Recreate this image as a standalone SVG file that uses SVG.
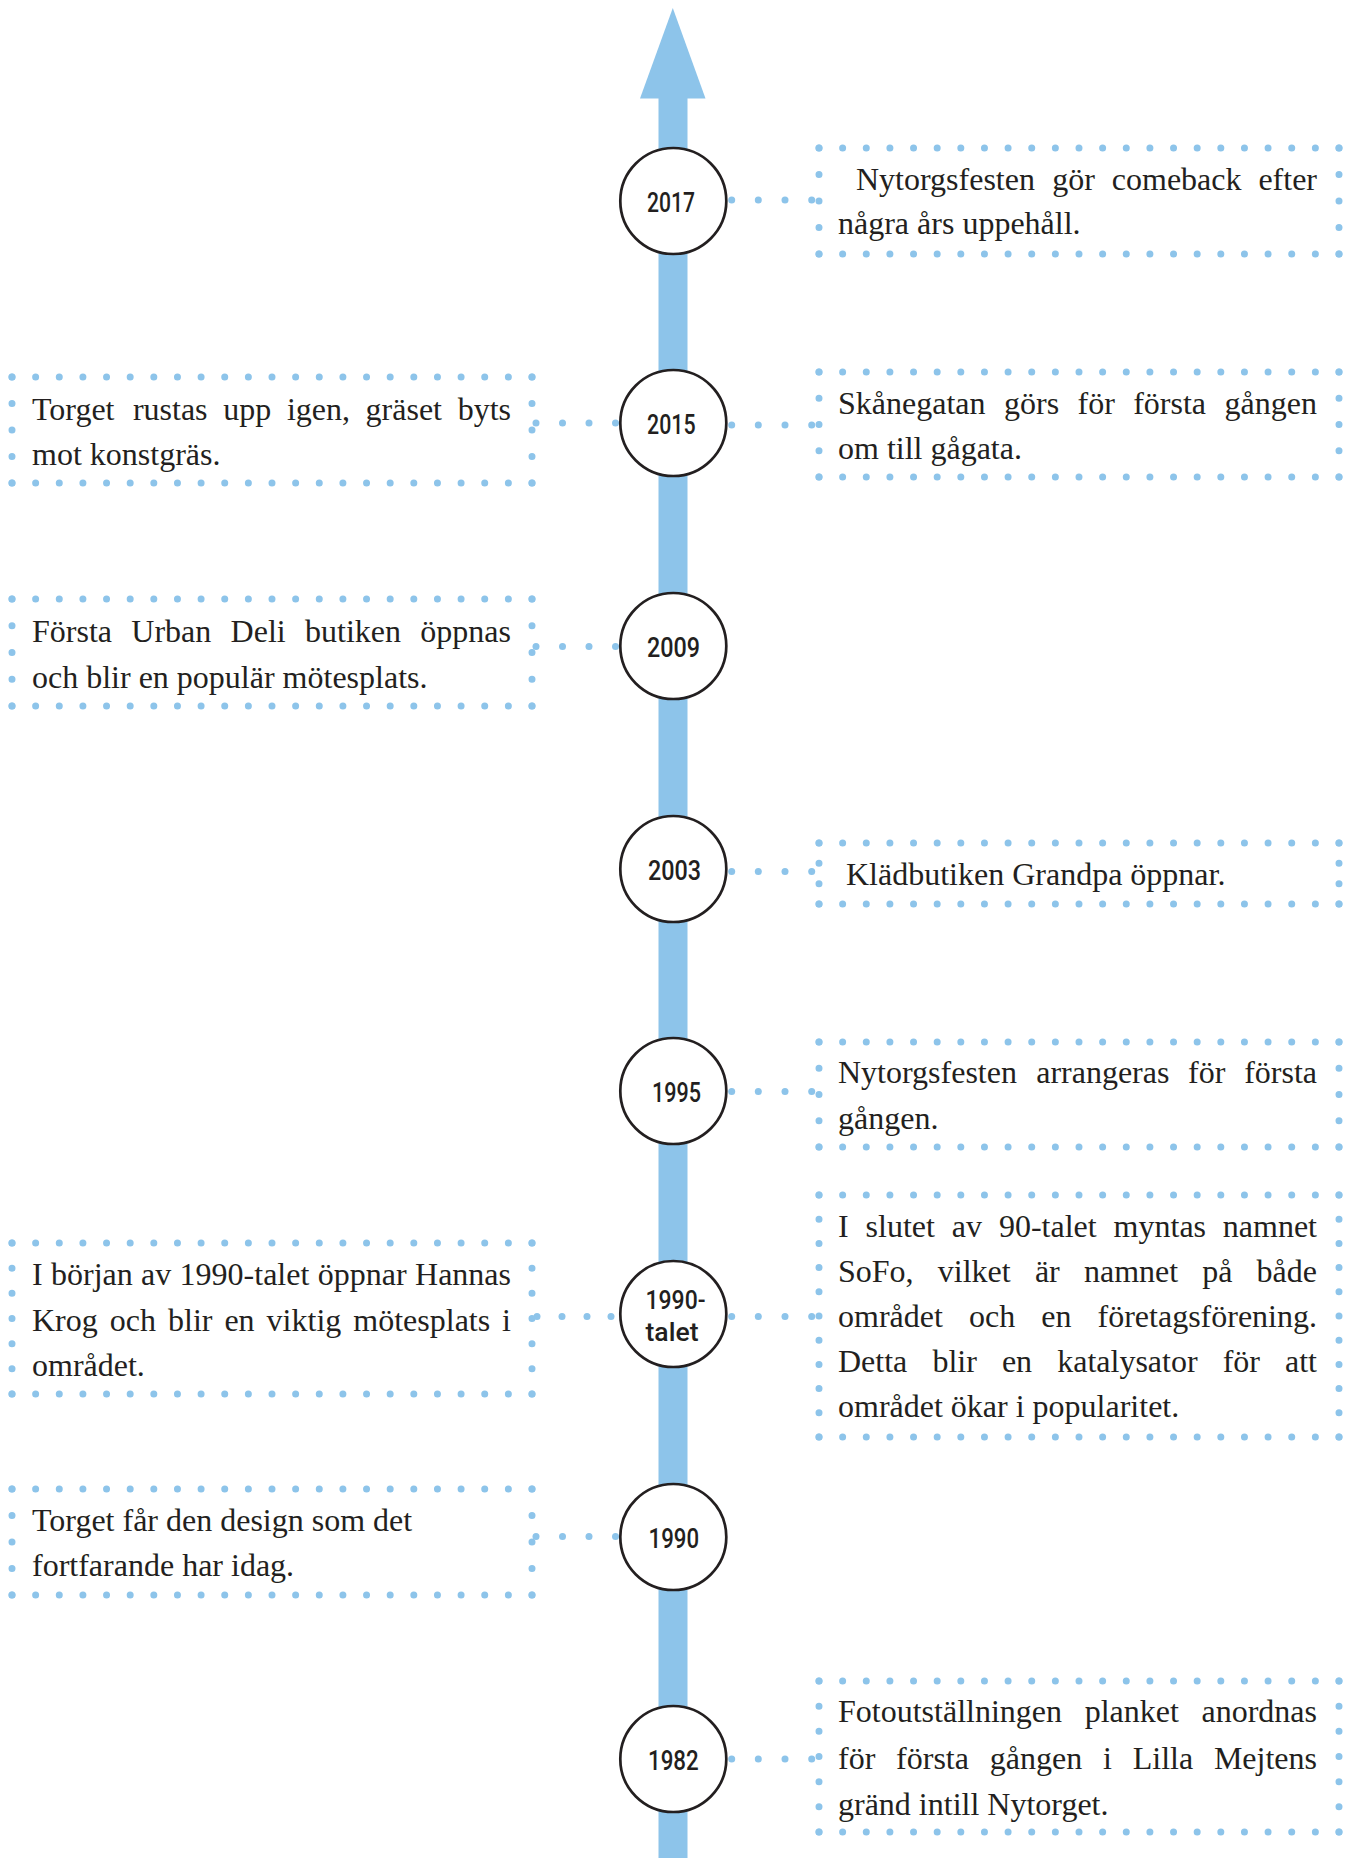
<svg xmlns="http://www.w3.org/2000/svg" width="1355" height="1858" viewBox="0 0 1355 1858">
<defs>
<style>
.spine{fill:#8dc4ea}
.dl{stroke:#8dc4ea;stroke-width:7;stroke-linecap:round;fill:none}
.h{stroke-dasharray:0 23.636}
.cd{fill:#8dc4ea}
.yc{fill:#ffffff;stroke:#231f20;stroke-width:2.7}
.yr{font-family:Roboto,"DejaVu Sans",sans-serif;font-weight:500;font-size:28px;fill:#231f20}
.yr2{font-family:Roboto,"DejaVu Sans",sans-serif;font-weight:500;font-size:26px;fill:#231f20}
.t{font-family:"Liberation Serif","Times New Roman",serif;font-size:32px;fill:#231f20}
.e{text-anchor:end}
</style>
</defs>
<rect width="1355" height="1858" fill="#ffffff"/>
<g id="timeline">
<rect class="spine" x="658.5" y="97" width="29" height="1761"/>
<polygon class="spine" points="640,98.5 705.5,98.5 672.8,8"/>
</g>
<g id="connectors">
<g id="c2017"><circle class="cd" cx="731.7" cy="200" r="3.5"/><circle class="cd" cx="758.3" cy="200" r="3.5"/><circle class="cd" cx="785" cy="200" r="3.5"/><circle class="cd" cx="811.7" cy="200" r="3.5"/></g>
<g id="c2015r"><circle class="cd" cx="731.7" cy="425" r="3.5"/><circle class="cd" cx="758.3" cy="425" r="3.5"/><circle class="cd" cx="785" cy="425" r="3.5"/><circle class="cd" cx="811.7" cy="425" r="3.5"/></g>
<g id="c2015l"><circle class="cd" cx="536" cy="423" r="3.5"/><circle class="cd" cx="562.5" cy="423" r="3.5"/><circle class="cd" cx="589" cy="423" r="3.5"/><circle class="cd" cx="615.5" cy="423" r="3.5"/></g>
<g id="c2009"><circle class="cd" cx="536" cy="646.5" r="3.5"/><circle class="cd" cx="562.5" cy="646.5" r="3.5"/><circle class="cd" cx="589" cy="646.5" r="3.5"/><circle class="cd" cx="615.5" cy="646.5" r="3.5"/></g>
<g id="c2003"><circle class="cd" cx="731.7" cy="871.5" r="3.5"/><circle class="cd" cx="758.3" cy="871.5" r="3.5"/><circle class="cd" cx="785" cy="871.5" r="3.5"/><circle class="cd" cx="811.7" cy="871.5" r="3.5"/></g>
<g id="c1995"><circle class="cd" cx="731.7" cy="1091.5" r="3.5"/><circle class="cd" cx="758.3" cy="1091.5" r="3.5"/><circle class="cd" cx="785" cy="1091.5" r="3.5"/><circle class="cd" cx="811.7" cy="1091.5" r="3.5"/></g>
<g id="c1990tr"><circle class="cd" cx="731.7" cy="1316.5" r="3.5"/><circle class="cd" cx="758.3" cy="1316.5" r="3.5"/><circle class="cd" cx="785" cy="1316.5" r="3.5"/><circle class="cd" cx="811.7" cy="1316.5" r="3.5"/></g>
<g id="c1990tl"><circle class="cd" cx="537" cy="1316.5" r="3.5"/><circle class="cd" cx="562" cy="1316.5" r="3.5"/><circle class="cd" cx="587" cy="1316.5" r="3.5"/><circle class="cd" cx="611" cy="1316.5" r="3.5"/></g>
<g id="c1990"><circle class="cd" cx="536" cy="1536.5" r="3.5"/><circle class="cd" cx="562.5" cy="1536.5" r="3.5"/><circle class="cd" cx="589" cy="1536.5" r="3.5"/><circle class="cd" cx="615.5" cy="1536.5" r="3.5"/></g>
<g id="c1982"><circle class="cd" cx="731.7" cy="1759" r="3.5"/><circle class="cd" cx="758.3" cy="1759" r="3.5"/><circle class="cd" cx="785" cy="1759" r="3.5"/><circle class="cd" cx="811.7" cy="1759" r="3.5"/></g>
</g>
<g id="y2017"><circle class="yc" cx="673.3" cy="201" r="53"/><text class="yr" x="647" y="211.5" textLength="48" lengthAdjust="spacingAndGlyphs">2017</text></g>
<g id="y2015"><circle class="yc" cx="673.3" cy="423" r="53"/><text class="yr" x="647" y="433.5" textLength="48.5" lengthAdjust="spacingAndGlyphs">2015</text></g>
<g id="y2009"><circle class="yc" cx="673.3" cy="646" r="53"/><text class="yr" x="647" y="656.5" textLength="53" lengthAdjust="spacingAndGlyphs">2009</text></g>
<g id="y2003"><circle class="yc" cx="673.3" cy="869" r="53"/><text class="yr" x="648" y="879.5" textLength="53" lengthAdjust="spacingAndGlyphs">2003</text></g>
<g id="y1995"><circle class="yc" cx="673.3" cy="1091" r="53"/><text class="yr" x="652" y="1101.5" textLength="49" lengthAdjust="spacingAndGlyphs">1995</text></g>
<g id="y1990t"><circle class="yc" cx="673.3" cy="1314" r="53"/><text class="yr2" x="645.5" y="1308.5" textLength="60" lengthAdjust="spacingAndGlyphs">1990-</text><text class="yr2" x="645.5" y="1340.5" textLength="53" lengthAdjust="spacingAndGlyphs">talet</text></g>
<g id="y1990"><circle class="yc" cx="673.3" cy="1537" r="53"/><text class="yr" x="648.5" y="1547.5" textLength="50.5" lengthAdjust="spacingAndGlyphs">1990</text></g>
<g id="y1982"><circle class="yc" cx="673.3" cy="1759" r="53"/><text class="yr" x="648" y="1769.5" textLength="50.7" lengthAdjust="spacingAndGlyphs">1982</text></g>

<g id="b2017">
<line class="dl h" x1="819" y1="148" x2="1339.01" y2="148"/><line class="dl h" x1="819" y1="254" x2="1339.01" y2="254"/>
<line class="dl" style="stroke-dasharray:0 26.5" x1="819" y1="148" x2="819" y2="254.01"/><line class="dl" style="stroke-dasharray:0 26.5" x1="1339" y1="148" x2="1339" y2="254.01"/>
<text class="t" y="190"><tspan x="856">Nytorgsfesten</tspan><tspan x="1052.3">gör</tspan><tspan x="1111.8">comeback</tspan><tspan class="e" x="1317">efter</tspan></text>
<text class="t" x="838" y="234">några års uppehåll.</text>
</g>
<g id="b2015r">
<line class="dl h" x1="819" y1="372" x2="1339.01" y2="372"/><line class="dl h" x1="819" y1="477" x2="1339.01" y2="477"/>
<line class="dl" style="stroke-dasharray:0 26.25" x1="819" y1="372" x2="819" y2="477.01"/><line class="dl" style="stroke-dasharray:0 26.25" x1="1339" y1="372" x2="1339" y2="477.01"/>
<text class="t" y="414"><tspan x="838">Skånegatan</tspan><tspan x="1004">görs</tspan><tspan x="1077.5">för</tspan><tspan x="1133.2">första</tspan><tspan class="e" x="1317">gången</tspan></text>
<text class="t" x="838" y="459">om till gågata.</text>
</g>
<g id="b2015l">
<line class="dl h" x1="12" y1="377" x2="532.01" y2="377"/><line class="dl h" x1="12" y1="483" x2="532.01" y2="483"/>
<line class="dl" style="stroke-dasharray:0 26.5" x1="12" y1="377" x2="12" y2="483.01"/><line class="dl" style="stroke-dasharray:0 26.5" x1="532" y1="377" x2="532" y2="483.01"/>
<text class="t" y="420"><tspan x="32">Torget</tspan><tspan x="132.9">rustas</tspan><tspan x="223.3">upp</tspan><tspan x="286.9">igen,</tspan><tspan x="365.6">gräset</tspan><tspan class="e" x="511">byts</tspan></text>
<text class="t" x="32" y="465">mot konstgräs.</text>
</g>
<g id="b2009">
<line class="dl h" x1="12" y1="599" x2="532.01" y2="599"/><line class="dl h" x1="12" y1="706" x2="532.01" y2="706"/>
<line class="dl" style="stroke-dasharray:0 26.75" x1="12" y1="599" x2="12" y2="706.01"/><line class="dl" style="stroke-dasharray:0 26.75" x1="532" y1="599" x2="532" y2="706.01"/>
<text class="t" y="641.5"><tspan x="32">Första</tspan><tspan x="131.3">Urban</tspan><tspan x="230.6">Deli</tspan><tspan x="305">butiken</tspan><tspan class="e" x="511">öppnas</tspan></text>
<text class="t" x="32" y="688">och blir en populär mötesplats.</text>
</g>
<g id="b2003">
<line class="dl h" x1="819" y1="843" x2="1339.01" y2="843"/><line class="dl h" x1="819" y1="904" x2="1339.01" y2="904"/>
<line class="dl" style="stroke-dasharray:0 20.333" x1="819" y1="843" x2="819" y2="904.01"/><line class="dl" style="stroke-dasharray:0 20.333" x1="1339" y1="843" x2="1339" y2="904.01"/>
<text class="t" x="846" y="885">Klädbutiken Grandpa öppnar.</text>
</g>
<g id="b1995">
<line class="dl h" x1="819" y1="1042" x2="1339.01" y2="1042"/><line class="dl h" x1="819" y1="1147" x2="1339.01" y2="1147"/>
<line class="dl" style="stroke-dasharray:0 26.25" x1="819" y1="1042" x2="819" y2="1147.01"/><line class="dl" style="stroke-dasharray:0 26.25" x1="1339" y1="1042" x2="1339" y2="1147.01"/>
<text class="t" y="1083"><tspan x="838">Nytorgsfesten</tspan><tspan x="1036.2">arrangeras</tspan><tspan x="1188.1">för</tspan><tspan class="e" x="1317">första</tspan></text>
<text class="t" x="838" y="1128.5">gången.</text>
</g>
<g id="b1990tl">
<line class="dl h" x1="12" y1="1243" x2="532.01" y2="1243"/><line class="dl h" x1="12" y1="1394" x2="532.01" y2="1394"/>
<line class="dl" style="stroke-dasharray:0 25.167" x1="12" y1="1243" x2="12" y2="1394.01"/><line class="dl" style="stroke-dasharray:0 25.167" x1="532" y1="1243" x2="532" y2="1394.01"/>
<text class="t" y="1285"><tspan x="32">I</tspan><tspan x="51">början</tspan><tspan x="141.1">av</tspan><tspan x="179.6">1990-talet</tspan><tspan x="317.7">öppnar</tspan><tspan class="e" x="511">Hannas</tspan></text>
<text class="t" y="1330.5"><tspan x="32">Krog</tspan><tspan x="109.8">och</tspan><tspan x="168">blir</tspan><tspan x="224.4">en</tspan><tspan x="266.6">viktig</tspan><tspan x="353.3">mötesplats</tspan><tspan class="e" x="511">i</tspan></text>
<text class="t" x="32" y="1376">området.</text>
</g>
<g id="b1990tr">
<line class="dl h" x1="819" y1="1195" x2="1339.01" y2="1195"/><line class="dl h" x1="819" y1="1437" x2="1339.01" y2="1437"/>
<line class="dl" style="stroke-dasharray:0 24.2" x1="819" y1="1195" x2="819" y2="1437.01"/><line class="dl" style="stroke-dasharray:0 24.2" x1="1339" y1="1195" x2="1339" y2="1437.01"/>
<text class="t" y="1237"><tspan x="838">I</tspan><tspan x="865.6">slutet</tspan><tspan x="951.8">av</tspan><tspan x="998.9">90-talet</tspan><tspan x="1113.6">myntas</tspan><tspan class="e" x="1317">namnet</tspan></text>
<text class="t" y="1282"><tspan x="838">SoFo,</tspan><tspan x="937.8">vilket</tspan><tspan x="1034.9">är</tspan><tspan x="1084">namnet</tspan><tspan x="1202.3">på</tspan><tspan class="e" x="1317">både</tspan></text>
<text class="t" y="1327"><tspan x="838">området</tspan><tspan x="969">och</tspan><tspan x="1041.3">en</tspan><tspan class="e" x="1317">företagsförening.</tspan></text>
<text class="t" y="1372"><tspan x="838">Detta</tspan><tspan x="932.4">blir</tspan><tspan x="1001.9">en</tspan><tspan x="1057.2">katalysator</tspan><tspan x="1222.7">för</tspan><tspan class="e" x="1317">att</tspan></text>
<text class="t" x="838" y="1417">området ökar i popularitet.</text>
</g>
<g id="b1990">
<line class="dl h" x1="12" y1="1489" x2="532.01" y2="1489"/><line class="dl h" x1="12" y1="1595" x2="532.01" y2="1595"/>
<line class="dl" style="stroke-dasharray:0 26.5" x1="12" y1="1489" x2="12" y2="1595.01"/><line class="dl" style="stroke-dasharray:0 26.5" x1="532" y1="1489" x2="532" y2="1595.01"/>
<text class="t" x="32" y="1530.5">Torget får den design som det</text>
<text class="t" x="32" y="1575.5">fortfarande har idag.</text>
</g>
<g id="b1982">
<line class="dl h" x1="819" y1="1681" x2="1339.01" y2="1681"/><line class="dl h" x1="819" y1="1832" x2="1339.01" y2="1832"/>
<line class="dl" style="stroke-dasharray:0 25.167" x1="819" y1="1681" x2="819" y2="1832.01"/><line class="dl" style="stroke-dasharray:0 25.167" x1="1339" y1="1681" x2="1339" y2="1832.01"/>
<text class="t" y="1722"><tspan x="838">Fotoutställningen</tspan><tspan x="1084.7">planket</tspan><tspan class="e" x="1317">anordnas</tspan></text>
<text class="t" y="1768.5"><tspan x="838">för</tspan><tspan x="896.1">första</tspan><tspan x="989.8">gången</tspan><tspan x="1103">i</tspan><tspan x="1132.7">Lilla</tspan><tspan class="e" x="1317">Mejtens</tspan></text>
<text class="t" x="838" y="1815">gränd intill Nytorget.</text>
</g>
</svg>
